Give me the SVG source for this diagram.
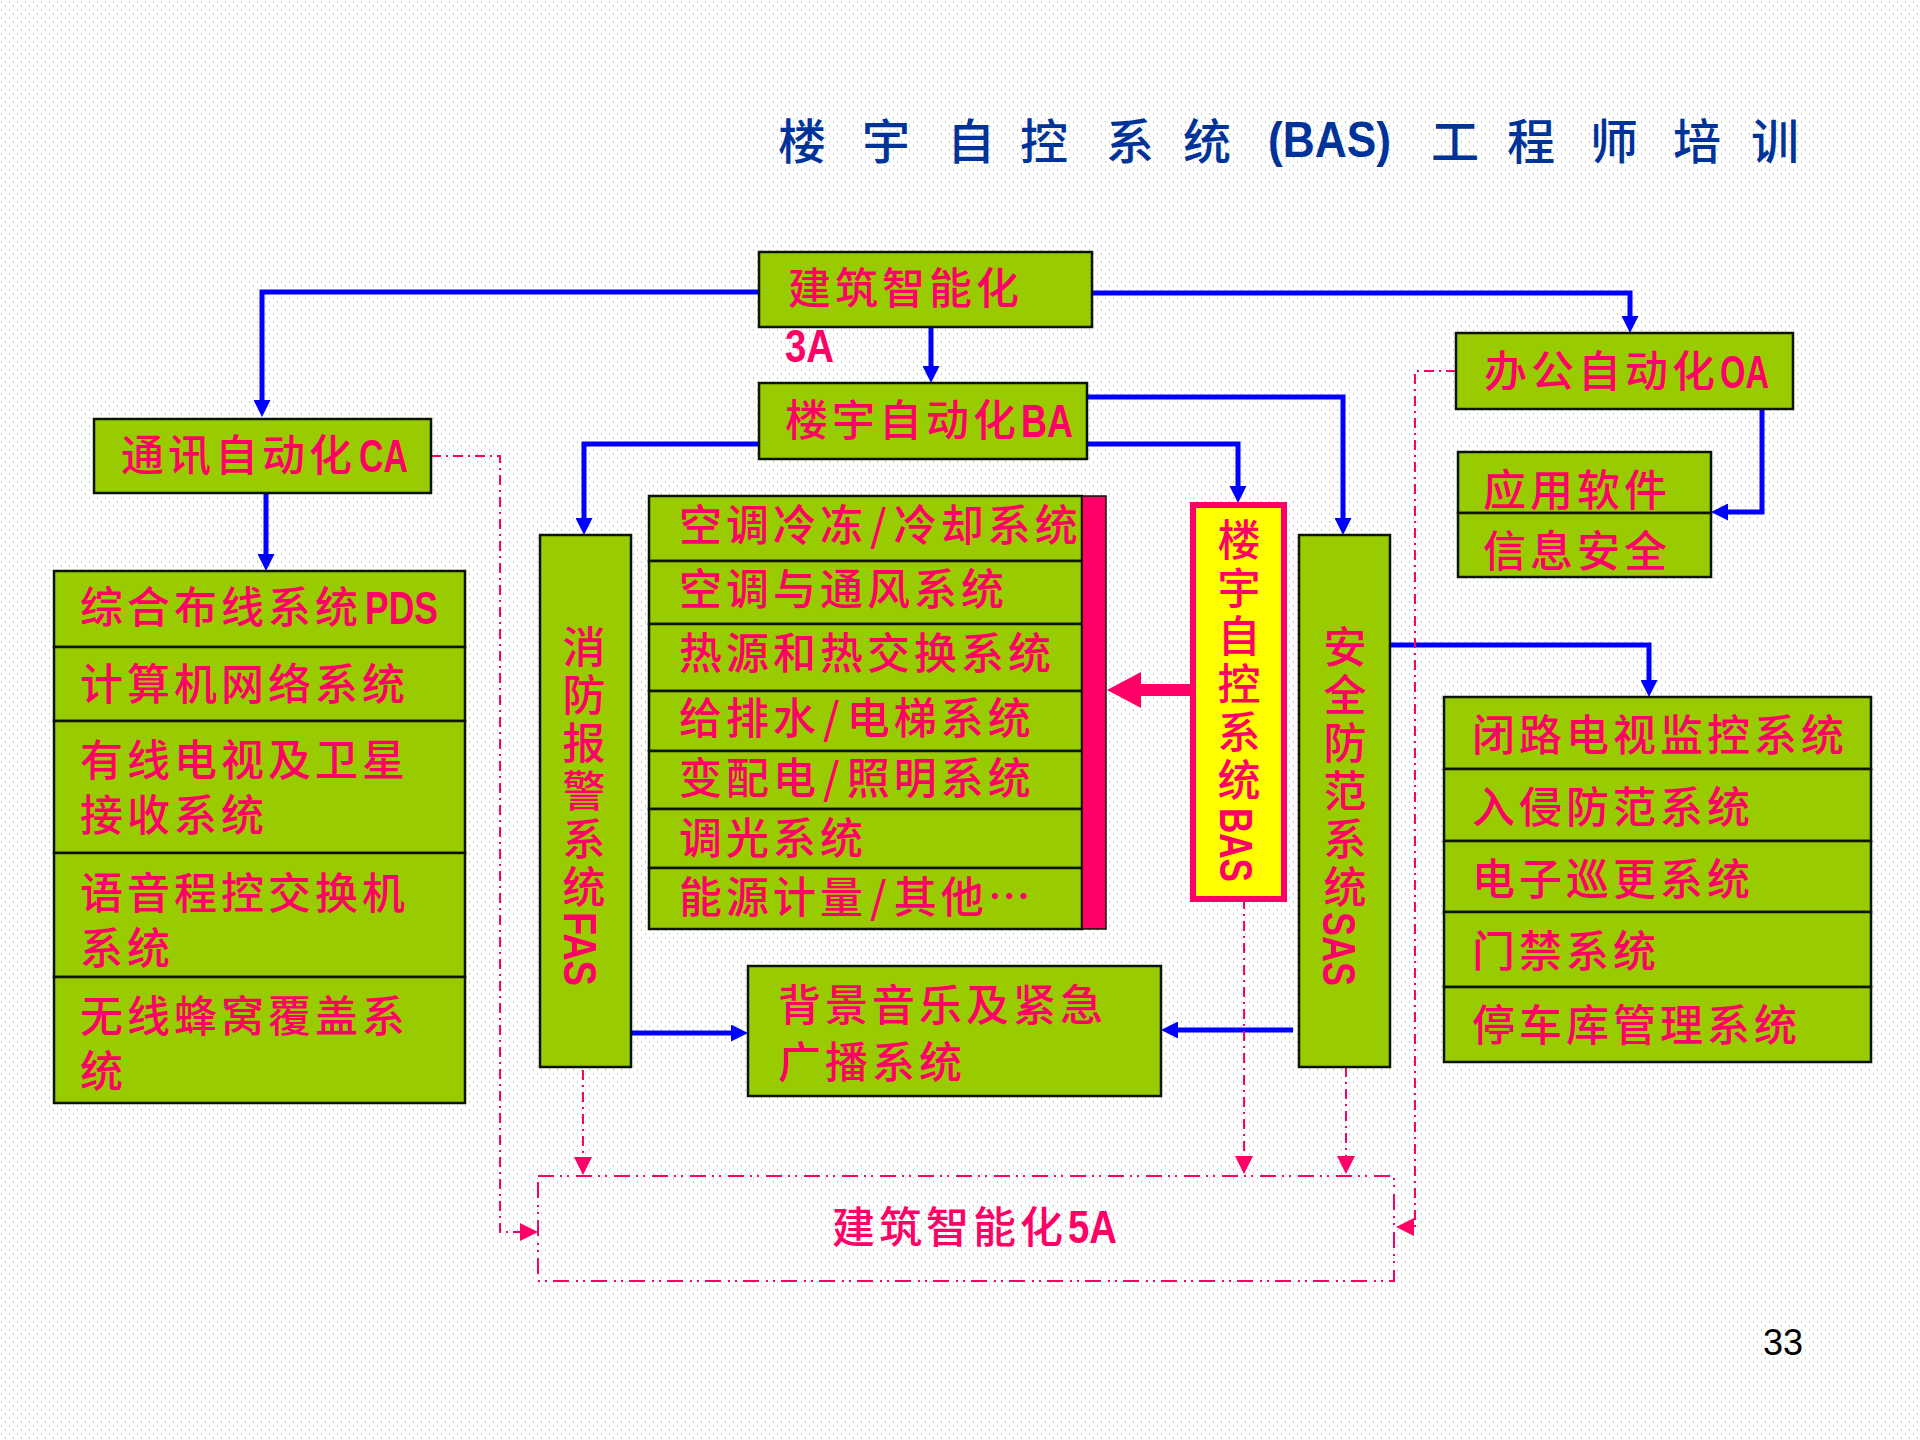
<svg xmlns="http://www.w3.org/2000/svg" width="1920" height="1440" viewBox="0 0 1920 1440">
<style>
.b{fill:#99CC00;stroke:#0a1400;stroke-width:2.5}
.t{font-family:"Noto Sans CJK SC","Noto Sans CJK JP",sans-serif;font-size:43px;font-weight:500;fill:#FF0066;letter-spacing:4px}
.s{letter-spacing:7px}
.l{font-family:"Liberation Sans",sans-serif;font-size:46px;font-weight:700;fill:#FF0066}
.v{writing-mode:vertical-rl;letter-spacing:5px}
.c{fill:none;stroke:#0000FF;stroke-width:5}
.d{fill:none;stroke:#FF0066;stroke-width:2;stroke-dasharray:10 5 2 5}
.title{font-family:"Noto Sans CJK SC","Noto Sans CJK JP",sans-serif;font-size:48px;fill:#003399;font-weight:500}
</style>
<defs>
<pattern id="dots" width="8" height="8" patternUnits="userSpaceOnUse"><rect width="8" height="8" fill="#FFFFFF"/><rect x="1" y="1" width="1" height="2" fill="#c4ccc4"/><rect x="5" y="5" width="1" height="2" fill="#c4ccc4"/></pattern>
<marker id="ab" markerUnits="userSpaceOnUse" markerWidth="17" markerHeight="17" refX="1" refY="8.5" orient="auto"><polygon points="0,0 17,8.5 0,17" fill="#0000FF"/></marker>
<marker id="ap" markerUnits="userSpaceOnUse" markerWidth="18" markerHeight="18" refX="1" refY="9" orient="auto"><polygon points="0,0 18,9 0,18" fill="#FF0066"/></marker>
<marker id="at" markerUnits="userSpaceOnUse" markerWidth="34" markerHeight="36" refX="1" refY="18" orient="auto"><polygon points="0,0 34,18 0,36" fill="#FF0066"/></marker>
</defs>
<rect width="1920" height="1440" fill="url(#dots)"/>
<text class="title" y="159"><tspan x="778">楼</tspan><tspan x="862">宇</tspan><tspan x="947">自</tspan><tspan x="1020">控</tspan><tspan x="1106">系</tspan><tspan x="1183">统</tspan><tspan x="1431">工</tspan><tspan x="1507">程</tspan><tspan x="1590">师</tspan><tspan x="1673">培</tspan><tspan x="1751">训</tspan></text>
<text x="1268" y="157" font-family="Liberation Sans" font-weight="700" font-size="50" fill="#003399" textLength="123" lengthAdjust="spacingAndGlyphs">(BAS)</text>
<text x="1763" y="1355" font-family="Liberation Sans" font-size="36" fill="#000">33</text>

<g id="connectors">
<path class="c" d="M759,292 H262 V401" marker-end="url(#ab)"/>
<path class="c" d="M1092,293 H1630 V317" marker-end="url(#ab)"/>
<path class="c" d="M931,327 V367" marker-end="url(#ab)"/>
<path class="c" d="M1087,397 H1343 V519" marker-end="url(#ab)"/>
<path class="c" d="M1087,444 H1238 V487" marker-end="url(#ab)"/>
<path class="c" d="M759,444 H584 V519" marker-end="url(#ab)"/>
<path class="c" d="M266,493 V555" marker-end="url(#ab)"/>
<path class="c" d="M1762,409 V512 H1727" marker-end="url(#ab)"/>
<path class="c" d="M1390,645 H1649 V681" marker-end="url(#ab)"/>
<path class="c" d="M631,1033 H732" marker-end="url(#ab)"/>
<path class="c" d="M1293,1030 H1177" marker-end="url(#ab)"/>
<path fill="none" stroke="#FF0066" stroke-width="12" d="M1190,690 H1140" marker-end="url(#at)"/>
<path class="d" d="M431,456 H500 V1232 H521" marker-end="url(#ap)"/>
<path class="d" d="M1456,371 H1415 V1227 H1413" marker-end="url(#ap)"/>
<path class="d" d="M583,1070 V1158" marker-end="url(#ap)"/>
<path class="d" d="M1244,899 V1157" marker-end="url(#ap)"/>
<path class="d" d="M1346,1067 V1157" marker-end="url(#ap)"/>
</g>

<g id="n-5a"><rect x="538" y="1176" width="856" height="105" fill="none" stroke="#FF0066" stroke-width="2" stroke-dasharray="16 6 2 5 2 7"/><text class="t" x="832" y="1243">建筑智能化</text><text class="l" x="1068" y="1243" textLength="49" lengthAdjust="spacingAndGlyphs">5A</text></g>
<g id="n-root"><rect class="b" x="759" y="252" width="333" height="75"/><text class="t" x="788" y="304">建筑智能化</text><text class="l" x="785" y="362" textLength="49" lengthAdjust="spacingAndGlyphs">3A</text></g>
<g id="n-ba"><rect class="b" x="759" y="383" width="328" height="76"/><text class="t" x="785" y="436">楼宇自动化</text><text class="l" x="1021" y="437" textLength="52" lengthAdjust="spacingAndGlyphs">BA</text></g>
<g id="n-ca"><rect class="b" x="94" y="419" width="337" height="74"/><text class="t" x="121" y="471">通讯自动化</text><text class="l" x="359" y="472" textLength="49" lengthAdjust="spacingAndGlyphs">CA</text></g>
<g id="n-oa"><rect class="b" x="1456" y="333" width="337" height="76"/><text class="t" x="1484" y="387">办公自动化</text><text class="l" x="1720" y="388" textLength="49" lengthAdjust="spacingAndGlyphs">OA</text></g>
<g id="n-soft"><rect class="b" x="1458" y="452" width="253" height="61"/><text class="t" x="1483" y="506">应用软件</text></g>
<g id="n-sec"><rect class="b" x="1458" y="513" width="253" height="64"/><text class="t" x="1483" y="567">信息安全</text></g>

<g id="n-pds"><rect class="b" x="54" y="571" width="411" height="76"/><text class="t" x="80" y="623">综合布线系统</text><text class="l" x="365" y="624" textLength="73" lengthAdjust="spacingAndGlyphs">PDS</text></g>
<g id="n-net"><rect class="b" x="54" y="647" width="411" height="74"/><text class="t" x="80" y="700">计算机网络系统</text></g>
<g id="n-tv"><rect class="b" x="54" y="721" width="411" height="132"/><text class="t" x="80" y="776">有线电视及卫星</text><text class="t" x="80" y="831">接收系统</text></g>
<g id="n-pbx"><rect class="b" x="54" y="853" width="411" height="124"/><text class="t" x="80" y="909">语音程控交换机</text><text class="t" x="80" y="964">系统</text></g>
<g id="n-cell"><rect class="b" x="54" y="977" width="411" height="126"/><text class="t" x="80" y="1032">无线蜂窝覆盖系</text><text class="t" x="80" y="1087">统</text></g>

<g id="n-fas"><rect class="b" x="540" y="535" width="91" height="532"/><text class="t v" x="584" y="625">消防报警系统</text><text class="l" transform="translate(564,912) rotate(90)" textLength="74" lengthAdjust="spacingAndGlyphs">FAS</text></g>

<g id="n-m1"><rect class="b" x="649" y="496" width="433" height="65"/><text class="t" x="679" y="541">空调冷冻<tspan class="s" dx="3">/</tspan>冷却系统</text></g>
<g id="n-m2"><rect class="b" x="649" y="561" width="433" height="63"/><text class="t" x="679" y="605">空调与通风系统</text></g>
<g id="n-m3"><rect class="b" x="649" y="624" width="433" height="67"/><text class="t" x="679" y="669">热源和热交换系统</text></g>
<g id="n-m4"><rect class="b" x="649" y="691" width="433" height="60"/><text class="t" x="679" y="734">给排水<tspan class="s" dx="3">/</tspan>电梯系统</text></g>
<g id="n-m5"><rect class="b" x="649" y="751" width="433" height="58"/><text class="t" x="679" y="794">变配电<tspan class="s" dx="3">/</tspan>照明系统</text></g>
<g id="n-m6"><rect class="b" x="649" y="809" width="433" height="59"/><text class="t" x="679" y="854">调光系统</text></g>
<g id="n-m7"><rect class="b" x="649" y="868" width="433" height="61"/><text class="t" x="679" y="913">能源计量<tspan class="s" dx="3">/</tspan>其他…</text></g>
<g id="n-bar"><rect x="1082" y="496" width="24" height="433" fill="#FF0066" stroke="#0a1400" stroke-width="1.5"/></g>

<g id="n-bas"><rect x="1193" y="505" width="91" height="394" fill="#FFFF00" stroke="#FF0066" stroke-width="6"/><text class="t v" x="1239" y="518">楼宇自控系统</text><text class="l" transform="translate(1220,808) rotate(90)" textLength="74" lengthAdjust="spacingAndGlyphs">BAS</text></g>
<g id="n-sas"><rect class="b" x="1299" y="535" width="91" height="532"/><text class="t v" x="1345" y="625">安全防范系统</text><text class="l" transform="translate(1323,912) rotate(90)" textLength="74" lengthAdjust="spacingAndGlyphs">SAS</text></g>

<g id="n-r1"><rect class="b" x="1444" y="697" width="427" height="72"/><text class="t" x="1472" y="751">闭路电视监控系统</text></g>
<g id="n-r2"><rect class="b" x="1444" y="769" width="427" height="72"/><text class="t" x="1472" y="823">入侵防范系统</text></g>
<g id="n-r3"><rect class="b" x="1444" y="841" width="427" height="71"/><text class="t" x="1472" y="895">电子巡更系统</text></g>
<g id="n-r4"><rect class="b" x="1444" y="912" width="427" height="75"/><text class="t" x="1472" y="967">门禁系统</text></g>
<g id="n-r5"><rect class="b" x="1444" y="987" width="427" height="75"/><text class="t" x="1472" y="1041">停车库管理系统</text></g>

<g id="n-bgm"><rect class="b" x="748" y="966" width="413" height="130"/><text class="t" x="778" y="1021">背景音乐及紧急</text><text class="t" x="778" y="1078">广播系统</text></g>
</svg>
